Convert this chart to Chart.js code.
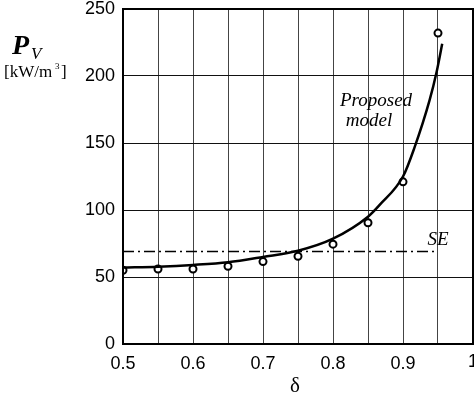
<!DOCTYPE html>
<html>
<head>
<meta charset="utf-8">
<script src="https://cdn.jsdelivr.net/npm/chart.js@4.4.0/dist/chart.umd.min.js"></script>
<style>
  html, body { margin: 0; padding: 0; background: #fff; }
  #wrap { width: 474px; height: 397px; position: relative; }
  canvas { display: block; }
</style>
</head>
<body>
<div id="wrap"><canvas id="pvchart" width="474" height="397"></canvas></div>
<script>
// measured points (open circles)
var deltaPts = [0.5, 0.55, 0.6, 0.65, 0.7, 0.75, 0.8, 0.85, 0.9, 0.95];
var pvPts = [55, 56, 56, 58, 61.5, 65.5, 74.5, 90.5, 121, 232];

// proposed model curve
var deltaModel = [0.5, 0.55, 0.6, 0.65, 0.7, 0.75, 0.8, 0.85, 0.867, 0.9, 0.916, 0.938, 0.948, 0.956];
var pvModel = [57, 57.7, 59, 61, 65, 69.6, 78.6, 95, 104, 125, 146, 182, 203, 224];

// SE level
var seDelta = [0.5, 0.945];
var seValue = [69, 69];

// labelled x ticks; the last one sits on the right edge and is drawn by the plugin
var xTicks = [0.5, 0.6, 0.7, 0.8, 0.9];
var xEdgeTick = 1;

var tickFont = '18px "Liberation Sans", Arial, sans-serif';

function toXY(xs, ys) {
  var out = [];
  for (var i = 0; i < xs.length; i++) out.push({x: xs[i], y: ys[i]});
  return out;
}

var labelsPlugin = {
  id: 'labels',
  afterDraw: function(chart) {
    var ctx = chart.ctx;
    var a = chart.chartArea;
    var xs = chart.scales.x;
    ctx.save();
    // frame
    ctx.strokeStyle = '#000';
    ctx.lineWidth = 2;
    ctx.strokeRect(a.left, a.top, a.right - a.left, a.bottom - a.top);

    ctx.fillStyle = '#000';
    // edge tick label (cut by the canvas edge like in the original)
    ctx.font = tickFont;
    ctx.textAlign = 'center';
    ctx.textBaseline = 'top';
    ctx.fillText(String(xEdgeTick), xs.getPixelForValue(xEdgeTick), a.bottom + 9);

    ctx.textBaseline = 'alphabetic';
    // y title
    ctx.textAlign = 'left';
    ctx.font = 'bold italic 28px "Liberation Serif", "DejaVu Serif", serif';
    ctx.fillText('P', 12, 54);
    ctx.font = 'italic 17px "Liberation Serif", serif';
    ctx.fillText('V', 31, 59);
    ctx.font = '17px "Liberation Serif", serif';
    ctx.fillText('[kW/m', 4, 77);
    ctx.font = '9px "Liberation Serif", serif';
    ctx.fillText('3', 55, 69);
    ctx.font = '17px "Liberation Serif", serif';
    ctx.fillText(']', 61, 77);

    // x title
    ctx.textAlign = 'center';
    ctx.font = '21px "Liberation Serif", serif';
    ctx.fillText('\u03b4', 295, 392);

    // curve labels
    ctx.font = 'italic 19px "Liberation Serif", serif';
    ctx.fillText('Proposed', 376, 106);
    ctx.fillText('model', 369, 126);
    ctx.fillText('SE', 438, 245);
    ctx.restore();
  }
};

var ctx = document.getElementById('pvchart');
var chart = new Chart(ctx, {
  type: 'scatter',
  data: {
    datasets: [
      {
        label: 'SE',
        data: toXY(seDelta, seValue),
        showLine: true,
        borderColor: '#000',
        borderWidth: 1.5,
        borderDash: [11, 4, 2, 4],
        pointRadius: 0,
        fill: false
      },
      {
        label: 'Proposed model',
        data: toXY(deltaModel, pvModel),
        showLine: true,
        borderColor: '#000',
        borderWidth: 2.5,
        cubicInterpolationMode: 'monotone',
        pointRadius: 0,
        fill: false
      },
      {
        label: 'Measured',
        data: toXY(deltaPts, pvPts),
        showLine: false,
        pointRadius: 3.5,
        pointBorderWidth: 2,
        pointBorderColor: '#000',
        pointBackgroundColor: '#fff'
      }
    ]
  },
  options: {
    responsive: false,
    animation: false,
    layout: { autoPadding: false, padding: { left: 0, right: 1, top: 9, bottom: 0 } },
    plugins: { legend: { display: false }, tooltip: { enabled: false } },
    scales: {
      x: {
        type: 'linear',
        min: 0.5,
        max: 1,
        ticks: {
          stepSize: 0.05,
          autoSkip: false,
          maxRotation: 0,
          color: '#000',
          font: { family: 'Liberation Sans, Arial, sans-serif', size: 18 },
          padding: 0,
          callback: function(v) {
            for (var i = 0; i < xTicks.length; i++) {
              if (Math.abs(v - xTicks[i]) < 1e-6) return String(xTicks[i]);
            }
            return '';
          }
        },
        grid: { color: '#444', lineWidth: 1, drawTicks: true, tickLength: 9, tickColor: 'rgba(0,0,0,0)' },
        border: { display: false },
        afterFit: function(s) { s.height = 53; }
      },
      y: {
        min: 0,
        max: 250,
        ticks: {
          stepSize: 50,
          color: '#000',
          font: { family: 'Liberation Sans, Arial, sans-serif', size: 18 },
          padding: 8
        },
        grid: { color: '#111', lineWidth: 1, drawTicks: false },
        border: { display: false },
        afterFit: function(s) { s.width = 123; s.paddingTop = 0; s.paddingBottom = 0; }
      }
    }
  },
  plugins: [labelsPlugin]
});
</script>
</body>
</html>
